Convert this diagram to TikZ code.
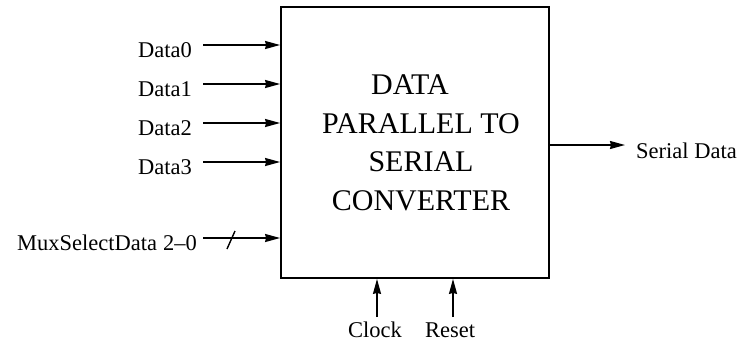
\documentclass[tikz,border=0pt]{standalone}
\usepackage{fontspec}
\setmainfont{Liberation Serif}
\usetikzlibrary{arrows.meta}
\begin{document}
\begin{tikzpicture}[x=1bp,y=-1bp,
  arr/.style={line width=1.6bp,-{Stealth[length=15bp,width=8bp,inset=1bp]}},
  lbl/.style={font=\fontsize{22.5bp}{24bp}\selectfont,inner sep=0pt},
  blk/.style={draw,line width=1.8bp,minimum width=268bp,minimum height=271bp,inner sep=0pt}]
\useasboundingbox (0,0) rectangle (740,343);
\node[blk] (box) at (415,142.5) {};
\node[anchor=base,align=center,inner sep=0pt,
  font=\fontsize{30bp}{38.5bp}\selectfont] (title) at (421,210)
  {DATA\hspace*{22bp}\\PARALLEL TO\\SERIAL\\CONVERTER};
% inputs
\node[lbl,anchor=base east] (d0) at (192,57) {Data0};
\node[lbl,anchor=base east] (d1) at (192,96) {Data1};
\node[lbl,anchor=base east] (d2) at (192,135) {Data2};
\node[lbl,anchor=base east] (d3) at (192,174) {Data3};
\node[lbl,anchor=base east] (mx) at (197,250) {MuxSelectData\hspace{6bp}2--0};
\coordinate (a0) at (203,45);
\coordinate (a1) at (203,84);
\coordinate (a2) at (203,123);
\coordinate (a3) at (203,162);
\coordinate (am) at (203,238);
\draw[arr] (a0) -- (a0 -| box.west);
\draw[arr] (a1) -- (a1 -| box.west);
\draw[arr] (a2) -- (a2 -| box.west);
\draw[arr] (a3) -- (a3 -| box.west);
\draw[arr] (am) -- (am -| box.west);
\coordinate (sl) at (231,240);
\draw[line width=1.4bp] ([shift={(-4,9)}]sl) -- ([shift={(4,-9)}]sl);
% output
\node[lbl,anchor=base west] (sd) at (636,158) {Serial Data};
\coordinate (ao) at (625,145);
\draw[arr] (ao -| box.east) -- (ao);
% clock, reset
\node[lbl,anchor=base] (clk) at (375,337) {Clock};
\node[lbl,anchor=base] (rst) at (450,337) {Reset};
\coordinate (ac) at (377,317);
\coordinate (ar) at (453,317);
\draw[arr] (ac) -- (ac |- box.south);
\draw[arr] (ar) -- (ar |- box.south);
\end{tikzpicture}
\end{document}
